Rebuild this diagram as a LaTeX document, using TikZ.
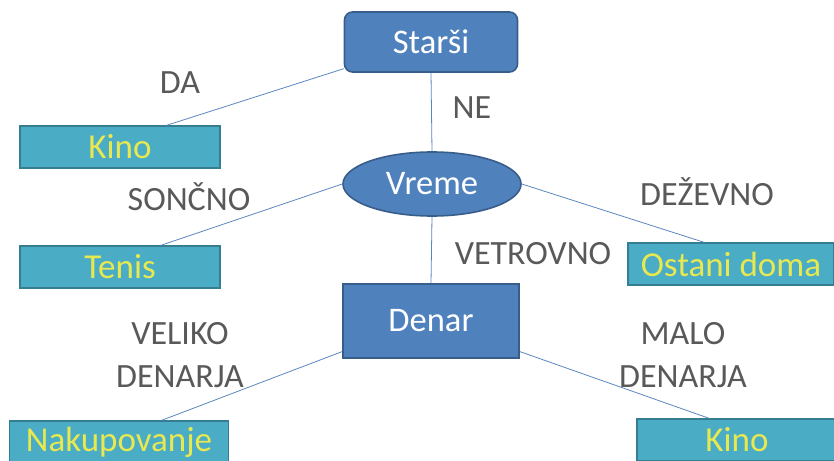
\documentclass[tikz,border=0pt]{standalone}
\usepackage{fontspec}
\setmainfont{Carlito}
\usetikzlibrary{shapes.geometric}
\definecolor{mainfill}{RGB}{79,129,189}
\definecolor{mainedge}{RGB}{56,93,138}
\definecolor{leaffill}{RGB}{75,172,198}
\definecolor{leafedge}{RGB}{53,125,145}
\definecolor{leaftext}{RGB}{232,232,80}
\definecolor{labgray}{RGB}{89,89,89}
\definecolor{linecol}{RGB}{90,135,190}
\tikzset{
  mainbox/.style={draw=mainedge, line width=1.6pt, fill=mainfill, text=white, inner sep=0pt,
    font=\fontsize{34.5}{37}\selectfont},
  leafbox/.style={draw=leafedge, line width=1.2pt, fill=leaffill, text=leaftext, inner sep=0pt,
    minimum height=42pt, font=\fontsize{35}{38}\selectfont},
  lab/.style={text=labgray, font=\fontsize{34}{37}\selectfont, inner sep=0pt},
  conn/.style={draw=linecol, line width=0.8pt}
}
\begin{document}
\begin{tikzpicture}[x=1pt,y=-1pt]
\useasboundingbox (0,0) rectangle (834,460);
\node[mainbox, rounded corners=8pt, minimum width=173pt, minimum height=60pt] (starsi) at (431,42) {Starši};
\node[mainbox, ellipse, minimum width=178pt, minimum height=64pt] (vreme) at (432,184) {Vreme};
\node[mainbox, minimum width=176pt, minimum height=74pt] (denar) at (431,321) {Denar};
\node[leafbox, minimum width=200pt] (kino1) at (120,147) {Kino};
\node[leafbox, minimum width=200pt] (tenis) at (120,267) {Tenis};
\node[leafbox, minimum width=206pt] (ostani) at (731,264) {Ostani doma};
\node[leafbox, minimum width=219pt] (nakup) at (119,442) {Nakupovanje};
\node[leafbox, minimum width=200pt] (kino2) at (737,440) {Kino};

\draw[conn] (starsi.197) -- (kino1.25);
\draw[conn] (starsi.south) -- (vreme.north);
\draw[conn] (vreme.west) -- (tenis.28);
\draw[conn] (vreme.east) -- (ostani.141);
\draw[conn] (vreme.south) -- (denar.north);
\draw[conn] (denar.199) -- (nakup.27);
\draw[conn] (denar.341) -- (kino2.142);

\node[lab] (lda) at (180,83) {DA};
\node[lab] (lne) at (472,108) {NE};
\node[lab] (lson) at (189,197) {SONČNO};
\node[lab] (ldez) at (707,192) {DEŽEVNO};
\node[lab] (lvet) at (533,254) {VETROVNO};
\node[lab] (lvel1) at (180,334) {VELIKO};
\node[lab] (lvel2) at (180,377) {DENARJA};
\node[lab] (lmal1) at (683,334) {MALO};
\node[lab] (lmal2) at (683,377) {DENARJA};
\end{tikzpicture}
\end{document}
